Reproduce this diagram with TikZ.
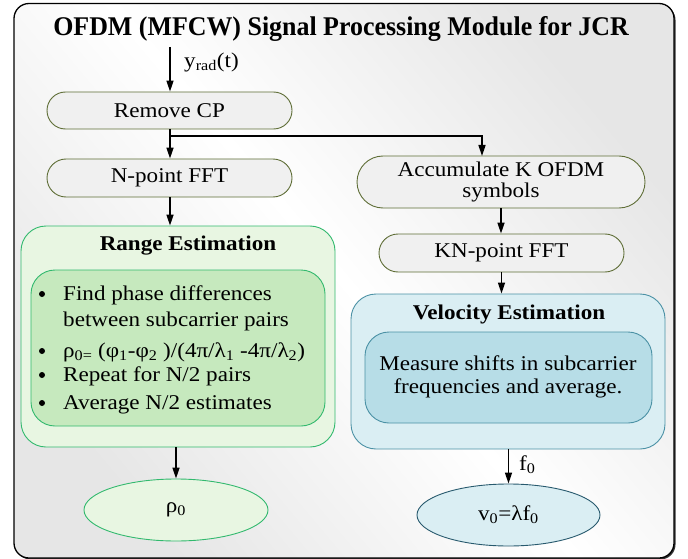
\documentclass[tikz,border=0pt]{standalone}
\usepackage{fontspec}
\setmainfont{Liberation Serif}[FakeStretch=1.1]
\newfontfamily\titlefont{Liberation Serif}[FakeStretch=0.96]
\usetikzlibrary{arrows.meta,shapes.geometric,shadings}
\definecolor{boxgray}{RGB}{240,240,240}
\definecolor{olivebd}{RGB}{95,110,55}
\definecolor{rgreen}{RGB}{50,185,110}
\definecolor{rlight}{RGB}{232,246,226}
\definecolor{rmid}{RGB}{198,233,190}
\definecolor{vteal}{RGB}{75,145,165}
\definecolor{vlight}{RGB}{218,238,243}
\definecolor{vmid}{RGB}{183,221,231}
\definecolor{vdark}{RGB}{40,90,110}
\definecolor{framegray}{RGB}{230,230,230}
\begin{document}
\begin{tikzpicture}[x=1pt,y=-1pt,
  every node/.style={font=\fontsize{21}{21}\selectfont, inner sep=0pt},
  procbox/.style={draw=olivebd, fill=boxgray, line width=0.9pt},
  arr/.style={-{Triangle[length=11pt,width=7pt]}, line width=1.6pt, black},
  bul/.style={anchor=base west},
  dot/.style={circle, fill=black, minimum size=6pt}
]
\useasboundingbox (0,0) rectangle (688,559);
% outer frame
\fill[black!80, rounded corners=15pt] (15.5,5) rectangle (675.5,559.5);
\shadedraw[rounded corners=15pt, left color=framegray, right color=framegray,
       middle color=white, shading angle=130, draw=black, line width=1.3pt]
  (14,3.5) rectangle (674,558);
% title
\node[anchor=base] (title) at (341,36) {\titlefont\fontsize{27}{27}\selectfont\bfseries OFDM (MFCW) Signal Processing Module for JCR};
% left chain
\node[procbox, minimum width=245pt, minimum height=37pt, rounded corners=18.5pt] (removecp) at (169.5,110.5) {Remove CP};
\node[procbox, minimum width=245pt, minimum height=38pt, rounded corners=19pt] (nfft) at (169.5,178) {N-point FFT};
% right chain
\node[procbox, minimum width=288pt, minimum height=52pt, rounded corners=26pt, align=center, font=\fontsize{21}{21}\selectfont] (accum) at (501,182) {Accumulate K OFDM\\symbols};
\node[procbox, minimum width=245pt, minimum height=38pt, rounded corners=19pt] (knfft) at (501.5,253) {KN-point FFT};
% range estimation
\node[draw=rgreen, fill=rlight, line width=0.9pt, rounded corners=25pt, minimum width=314pt, minimum height=221pt] (range) at (178,336.5) {};
\node[anchor=base] (rangetitle) at (188,250) {\bfseries Range Estimation};
\node[draw=rgreen, fill=rmid, line width=0.9pt, rounded corners=24pt, minimum width=294pt, minimum height=156pt] (rangein) at (178,348) {};
\node[dot] (d1) at (42,294) {};
\node[bul] (b1) at (63,300) {Find phase differences};
\node[bul] (b1b) at (63,326) {between subcarrier pairs};
\node[dot] (d2) at (42,351) {};
\node[bul] (b2) at (63,357) {ρ\textsubscript{0=} (φ\textsubscript{1}-φ\textsubscript{2} )/(4π/λ\textsubscript{1} -4π/λ\textsubscript{2})};
\node[dot] (d3) at (42,375) {};
\node[bul] (b3) at (63,381) {Repeat for N/2 pairs};
\node[dot] (d4) at (42,403) {};
\node[bul] (b4) at (63,409) {Average N/2 estimates};
% velocity estimation
\node[draw=vteal, fill=vlight, line width=0.9pt, rounded corners=25pt, minimum width=314pt, minimum height=155pt] (vel) at (508,371.5) {};
\node[anchor=base] (veltitle) at (509,319) {\bfseries Velocity Estimation};
\node[draw=vteal, fill=vmid, line width=0.9pt, rounded corners=24pt, minimum width=287pt, minimum height=91pt] (velin) at (508.5,377.5) {};
\node[align=center, font=\fontsize{21}{23}\selectfont] (veltext) at (508,377) {Measure shifts in subcarrier\\frequencies and average.};
% outputs
\node[ellipse, draw=rgreen, fill=rlight, line width=0.9pt, minimum width=184pt, minimum height=62pt] (rho) at (176,510) {ρ\textsubscript{0}};
\node[ellipse, draw=vdark, fill=vlight, line width=0.9pt, minimum width=183pt, minimum height=62pt] (vout) at (508.5,515) {v\textsubscript{0}=λf\textsubscript{0}};
% connectors
\coordinate (in) at (170,47);
\draw[arr] (in) -- (in |- removecp.north);
\node[anchor=west] (ylab) at (184,62) {y\textsubscript{rad}(t)};
\draw[arr] (in |- removecp.south) -- (in |- nfft.north);
\coordinate (br) at (170,136);
\coordinate (accin) at (482,156);
\draw[arr] (br) -| (accin);
\draw[arr] (in |- nfft.south) -- (in |- range.north);
\draw[arr] (accum.south) -- (accum.south |- knfft.north);
\draw[arr] (knfft.south) -- (knfft.south |- vel.north);
\draw[arr] (rho.north |- range.south) -- (rho.north);
\draw[arr] (vout.north |- vel.south) -- (vout.north);
\node[anchor=west] (flab) at (519,465) {f\textsubscript{0}};
\end{tikzpicture}
\end{document}
